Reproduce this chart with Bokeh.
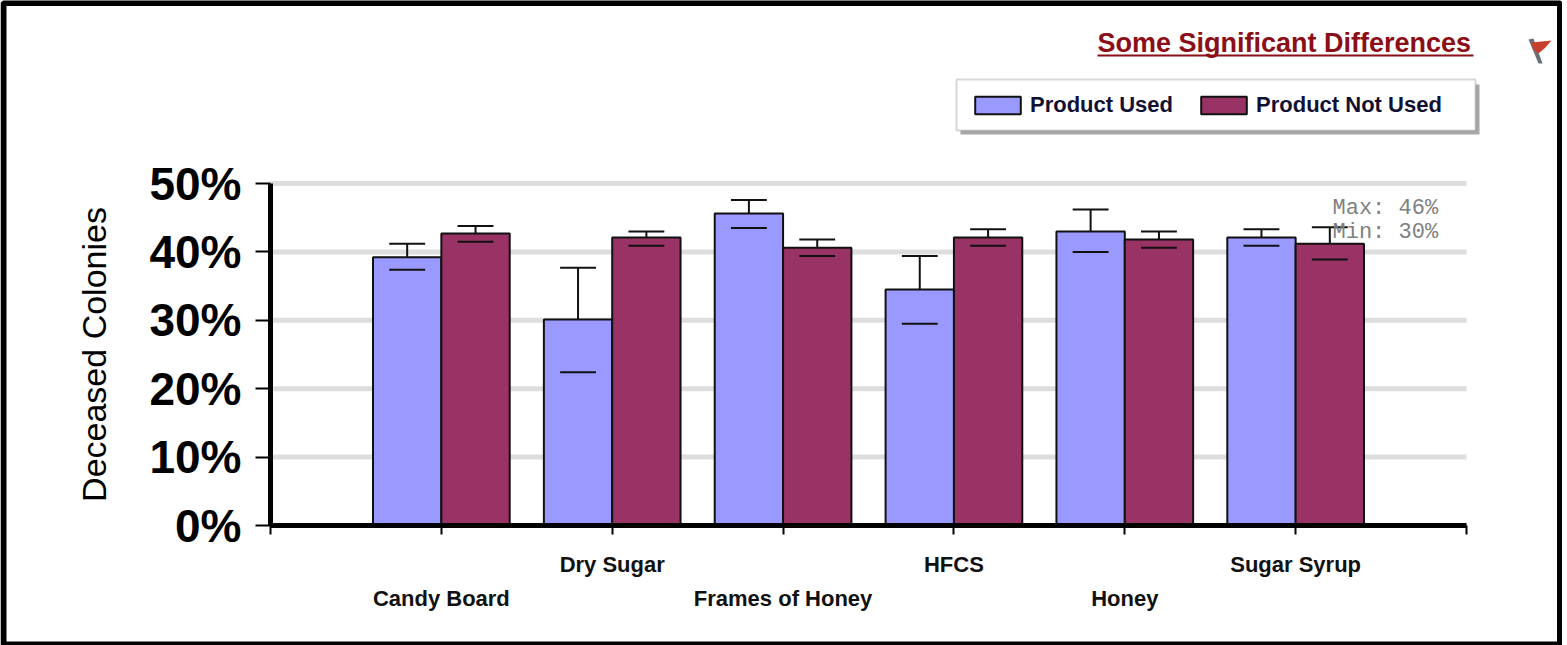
from bokeh.plotting import figure
from bokeh.embed import file_html
from bokeh.resources import INLINE
from bokeh.models import (ColumnDataSource, FixedTicker, LinearAxis, Legend, LegendItem,
                          Label, BoxAnnotation, PolyAnnotation, Range1d)

categories = ["Candy Board", "Dry Sugar", "Frames of Honey", "HFCS", "Honey", "Sugar Syrup"]
used = [39.2, 30.1, 45.6, 34.5, 43.0, 42.1]
used_hi = [41.2, 37.7, 47.6, 39.4, 46.2, 43.3]
used_lo = [37.4, 22.4, 43.5, 29.5, 40.0, 40.9]
not_used = [42.7, 42.1, 40.6, 42.1, 41.8, 41.2]
not_used_hi = [43.8, 43.0, 41.8, 43.3, 43.0, 43.6]
not_used_lo = [41.5, 40.9, 39.4, 40.9, 40.6, 38.9]
y_ticks = [0, 10, 20, 30, 40, 50]
y_labels = ["0%", "10%", "20%", "30%", "40%", "50%"]
note_lines = ["Max: 46%", "Min: 30%"]
title_text = "Some Significant Differences"
series_names = ["Product Used", "Product Not Used"]
colors = ["#9999ff", "#993366"]

BAR = 0.4
CAP = 0.105
FONT = "Liberation Sans"

# The frame fills the whole canvas, because annotations are clipped to it;
# the axes sit inside it at fixed locations.
W, H = 1562, 645
X0, X_UNIT = 270, 1196 / 7
Y0, Y_UNIT = 525, 342 / 50

p = figure(width=W, height=H, frame_width=W, frame_height=H,
           x_range=Range1d(-X0 / X_UNIT, (W - X0) / X_UNIT),
           y_range=Range1d((Y0 - H) / Y_UNIT, Y0 / Y_UNIT),
           output_backend="svg", toolbar_location=None,
           min_border=0, outline_line_color=None, x_axis_location=None, y_axis_location=None,
           styles={"position": "absolute", "left": "0px", "top": "0px"})
p.grid.visible = False

# grid lines stop at the plot area's ends
p.segment(x0=[0] * len(y_ticks), x1=[7] * len(y_ticks), y0=y_ticks, y1=y_ticks,
          line_color="#dddddd", line_width=5, level="underlay")

ya = LinearAxis(fixed_location=0, bounds=(0, 50), ticker=FixedTicker(ticks=y_ticks),
                major_label_overrides={t: s for t, s in zip(y_ticks, y_labels)},
                axis_line_width=5, axis_line_color="black",
                major_tick_line_width=2, major_tick_line_color="black",
                major_tick_out=15, major_tick_in=0, minor_tick_line_color=None,
                major_label_text_font=FONT, major_label_text_font_size="46px",
                major_label_text_font_style="bold", major_label_text_color="black",
                major_label_standoff=14,
                axis_label="Deceased Colonies", axis_label_text_font=FONT,
                axis_label_text_font_size="34px", axis_label_text_font_style="normal",
                axis_label_text_color="black", axis_label_standoff=33)
p.add_layout(ya, "left")

positions = list(range(1, len(categories) + 1))
xa = LinearAxis(fixed_location=0, bounds=(0, 7), ticker=FixedTicker(ticks=[0] + positions + [7]),
                major_label_overrides={t: "" for t in [0] + positions + [7]},
                axis_line_width=5, axis_line_color="black",
                major_tick_line_width=2, major_tick_line_color="black",
                major_tick_out=9, major_tick_in=0, minor_tick_line_color=None,
                major_label_standoff=0)
p.add_layout(xa, "below")


def label_axis(idx, standoff):
    ticks = [positions[i] for i in idx]
    ax = LinearAxis(fixed_location=0, ticker=FixedTicker(ticks=ticks),
                    major_label_overrides={positions[i]: categories[i] for i in idx},
                    axis_line_color=None, major_tick_line_color=None,
                    minor_tick_line_color=None, major_tick_out=0, major_tick_in=0,
                    major_label_text_font=FONT, major_label_text_font_size="22px",
                    major_label_text_font_style="bold", major_label_text_color="#111111",
                    major_label_standoff=standoff)
    p.add_layout(ax, "below")


label_axis([1, 3, 5], 26)
label_axis([0, 2, 4], 60)

handles = []
for k, (vals, hi, lo) in enumerate([(used, used_hi, used_lo), (not_used, not_used_hi, not_used_lo)]):
    off = (-BAR / 2) if k == 0 else (BAR / 2)
    xs = [x + off for x in positions]
    src = ColumnDataSource(dict(x=xs, v=vals, hi=hi, lo=lo,
                                x0=[x - CAP for x in xs], x1=[x + CAP for x in xs]))
    p.segment("x", "v", "x", "hi", source=src, line_color="#111111", line_width=2)
    r = p.vbar(x="x", top="v", bottom=0, width=BAR, source=src, fill_color=colors[k],
               line_color="#111111", line_width=2)
    p.segment("x0", "hi", "x1", "hi", source=src, line_color="#111111", line_width=2)
    p.segment("x0", "lo", "x1", "lo", source=src, line_color="#111111", line_width=2)
    handles.append(r)


def cbox(l, r, t, b, **kw):
    return BoxAnnotation(left=l, right=r, top=t, bottom=b, left_units="canvas", right_units="canvas",
                         top_units="canvas", bottom_units="canvas", **kw)


def clabel(x, y, text, **kw):
    return Label(x=x, y=y, x_units="canvas", y_units="canvas", text=text, text_baseline="middle", **kw)


# legend panel: shadow, box, then the legend itself without a frame of its own
p.add_layout(cbox(960, 1479, 84, 134, fill_color="#a8a8a8", fill_alpha=1, line_color=None))
p.add_layout(cbox(956, 1475, 79, 130, fill_color="white", fill_alpha=1, line_color="#777777", line_width=2))
legend = Legend(items=[LegendItem(label=series_names[i], renderers=[handles[i]]) for i in range(2)],
                location=(969, H - 118), orientation="horizontal",
                background_fill_alpha=0, border_line_color=None,
                label_text_font=FONT, label_text_font_size="22px", label_text_font_style="bold",
                label_text_color="#111133", glyph_width=57, glyph_height=22,
                label_standoff=4, spacing=22, padding=12, margin=0)
p.add_layout(legend)

p.add_layout(clabel(1097, 42, title_text, text_font=FONT, text_font_size="27px",
                    text_font_style="bold", text_color="#8b0f17"))
p.add_layout(cbox(1097, 1473, 54, 56, fill_color="#8b0f17", fill_alpha=1, line_color=None))

for line, yy in zip(note_lines, [208, 232]):
    p.add_layout(clabel(1332, yy, line, text_font="Liberation Mono", text_font_size="22px",
                        text_color="#808080"))

p.add_layout(PolyAnnotation(xs=[1528, 1533, 1542, 1538], ys=[39, 38, 63, 63], xs_units="canvas",
                            ys_units="canvas", fill_color="#6b7078", fill_alpha=1, line_color=None))
p.add_layout(PolyAnnotation(xs=[1531, 1551, 1545, 1538, 1533], ys=[42, 40, 47, 53, 49], xs_units="canvas",
                            ys_units="canvas", fill_color="#c8402c", fill_alpha=1, line_color=None))

p.add_layout(cbox(3, 1559.5, 2.5, 644, fill_alpha=0, line_color="black", line_width=6, line_alpha=1))

open("out.html", "w").write(file_html(p, INLINE))
